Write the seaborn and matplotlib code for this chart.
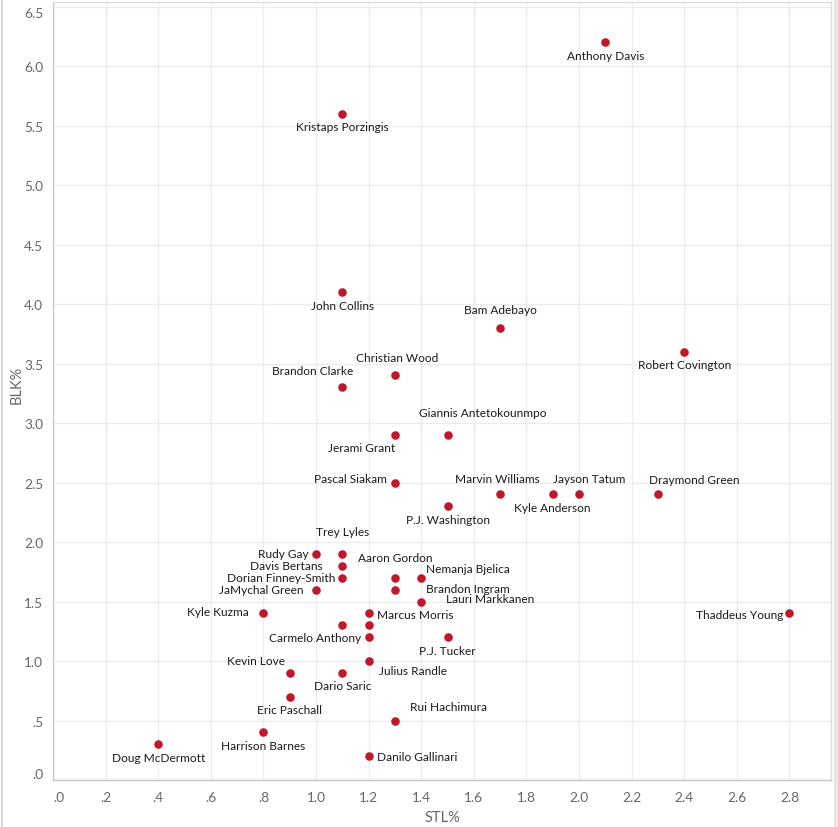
import matplotlib
matplotlib.use("Agg")
import matplotlib.pyplot as plt
import seaborn as sns
import pandas as pd
import numpy as np
from matplotlib.ticker import FixedLocator, FuncFormatter
from matplotlib.lines import Line2D

# ---- data ----
players = ["Anthony Davis", "Kristaps Porzingis", "John Collins", "Bam Adebayo",
           "Robert Covington", "Christian Wood", "Brandon Clarke",
           "Giannis Antetokounmpo", "Jerami Grant", "Pascal Siakam",
           "Marvin Williams", "Jayson Tatum", "Draymond Green", "Kyle Anderson",
           "P.J. Washington", "Trey Lyles", "Rudy Gay", "Aaron Gordon",
           "Davis Bertans", "Dorian Finney-Smith", "JaMychal Green",
           "Nemanja Bjelica", "Brandon Ingram", "Lauri Markkanen", "Kyle Kuzma",
           "Marcus Morris", "", "", "Carmelo Anthony", "P.J. Tucker",
           "Julius Randle", "Kevin Love", "Dario Saric", "Eric Paschall",
           "Rui Hachimura", "Harrison Barnes", "Doug McDermott",
           "Danilo Gallinari", "Thaddeus Young"]
stl = [2.1, 1.1, 1.1, 1.7, 2.4, 1.3, 1.1, 1.5, 1.3, 1.3,
       1.7, 2.0, 2.3, 1.9, 1.5, 1.1, 1.0, 1.3, 1.1, 1.1, 1.0,
       1.4, 1.3, 1.4, 0.8, 1.2, 1.1, 1.2, 1.2, 1.5,
       1.2, 0.9, 1.1, 0.9, 1.3, 0.8, 0.4, 1.2, 2.8]
blk = [6.2, 5.6, 4.1, 3.8, 3.6, 3.4, 3.3, 2.9, 2.9, 2.5,
       2.4, 2.4, 2.4, 2.4, 2.3, 1.9, 1.9, 1.7, 1.8, 1.7, 1.6,
       1.7, 1.6, 1.5, 1.4, 1.4, 1.3, 1.3, 1.2, 1.2,
       1.0, 0.9, 0.9, 0.7, 0.5, 0.4, 0.3, 0.2, 1.4]
x_ticks = [0.0, 0.2, 0.4, 0.6, 0.8, 1.0, 1.2, 1.4, 1.6, 1.8, 2.0, 2.2, 2.4, 2.6, 2.8]
y_ticks = [0.0, 0.5, 1.0, 1.5, 2.0, 2.5, 3.0, 3.5, 4.0, 4.5, 5.0, 5.5, 6.0, 6.5]

# ---- label placement (ha, dx px, dy px) ----
label_pos = {
    "Anthony Davis": ("center", 0, -13),
    "Kristaps Porzingis": ("center", 0, -13),
    "John Collins": ("center", 0, -13),
    "Bam Adebayo": ("center", 0, 18),
    "Robert Covington": ("center", 0, -13),
    "Christian Wood": ("center", 2, 18),
    "Brandon Clarke": ("right", 11, 17),
    "Giannis Antetokounmpo": ("center", 35, 22),
    "Jerami Grant": ("center", -33, -13),
    "Pascal Siakam": ("right", -8, 4),
    "Marvin Williams": ("center", -3, 16),
    "Jayson Tatum": ("center", 10, 16),
    "Draymond Green": ("center", 36, 15),
    "Kyle Anderson": ("center", 0, -13),
    "P.J. Washington": ("center", 0, -13),
    "Trey Lyles": ("center", 0, 22),
    "Rudy Gay": ("right", -7, 0),
    "Aaron Gordon": ("center", 0, 20),
    "Davis Bertans": ("right", -20, 0),
    "Dorian Finney-Smith": ("right", -7, 0),
    "JaMychal Green": ("right", -13, 0),
    "Nemanja Bjelica": ("left", 5, 9),
    "Brandon Ingram": ("left", 31, 1),
    "Lauri Markkanen": ("left", 25, 3),
    "Kyle Kuzma": ("right", -15, 2),
    "Marcus Morris": ("left", 8, -1),
    "Carmelo Anthony": ("right", -7, 0),
    "P.J. Tucker": ("center", 0, -13),
    "Julius Randle": ("left", 10, -9),
    "Kevin Love": ("right", -5, 12),
    "Dario Saric": ("center", 0, -13),
    "Eric Paschall": ("center", 0, -13),
    "Rui Hachimura": ("left", 15, 14),
    "Harrison Barnes": ("center", 0, -13),
    "Doug McDermott": ("center", 0, -13),
    "Danilo Gallinari": ("left", 8, 0),
    "Thaddeus Young": ("right", -6, -1),
}

df = pd.DataFrame({"player": players, "STL%": stl, "BLK%": blk})

sns.set_style("white")
FONT = ["Lato", "DejaVu Sans"]
plt.rcParams["font.family"] = FONT

W, H = 838, 828
fig = plt.figure(figsize=(W / 100, H / 100), dpi=100)
ax = fig.add_axes([53 / W, (H - 781) / H, (831 - 53) / W, (781 - 3) / H])

ax.set_xlim(0, 2.958)
ax.set_ylim(0, 6.538)

# grid
ax.xaxis.set_major_locator(FixedLocator(x_ticks))
ax.yaxis.set_major_locator(FixedLocator(y_ticks))
ax.grid(True, color="#ececec", linewidth=1.0)
ax.set_axisbelow(True)

sns.scatterplot(data=df, x="STL%", y="BLK%", ax=ax, color="#c0172b",
                s=38, linewidth=0, zorder=3, legend=False)

for name, xv, yv in zip(players, stl, blk):
    if not name:
        continue
    ha, dx, dy = label_pos[name]
    ax.annotate(name, (xv, yv), xytext=(dx, dy), textcoords="offset pixels",
                ha=ha, va="center", fontsize=8.6, color="#1a1a1a", zorder=4)

def fmt(v, pos=None):
    s = f"{v:.1f}"
    if s.startswith("0"):
        s = s[1:]
    return s

ax.xaxis.set_major_formatter(FuncFormatter(fmt))
ax.yaxis.set_major_formatter(FuncFormatter(fmt))
ax.tick_params(axis="both", which="major", length=4, width=0.8, color="#c8c8c8",
               labelcolor="#666666", labelsize=9.8, pad=3)
ax.tick_params(axis="x", pad=4)

for lab in ax.get_xticklabels():
    if lab.get_text() == ".0":
        lab.set_ha("left")
for lab in ax.get_yticklabels():
    if lab.get_text() == ".0":
        lab.set_va("bottom")
    if lab.get_text() == "6.5":
        lab.set_va("top")

for side in ["left", "bottom"]:
    ax.spines[side].set_color("#c8c8c8")
    ax.spines[side].set_linewidth(1.0)
for side in ["top", "right"]:
    ax.spines[side].set_color("#dcdcdc")
    ax.spines[side].set_linewidth(1.0)

ax.set_xlabel("STL%", fontsize=10.5, color="#666666")
ax.xaxis.set_label_coords(0.5, -(818 - 781) / (781 - 3), transform=ax.transAxes)
ax.xaxis.label.set_va("center")
ax.set_ylabel("BLK%", fontsize=10.5, color="#666666")
ax.yaxis.set_label_coords(-(53 - 17) / (831 - 53), (781 - 385) / (781 - 3),
                          transform=ax.transAxes)
ax.yaxis.label.set_va("center")

# window borders
fig.add_artist(Line2D([1.5 / W, 1.5 / W], [0, 1], color="#d9d9d9", lw=1.5,
                      transform=fig.transFigure))
fig.add_artist(Line2D([836 / W, 836 / W], [0, 1], color="#e6e6e6", lw=3,
                      transform=fig.transFigure))

fig.savefig("out.png", dpi=100)
